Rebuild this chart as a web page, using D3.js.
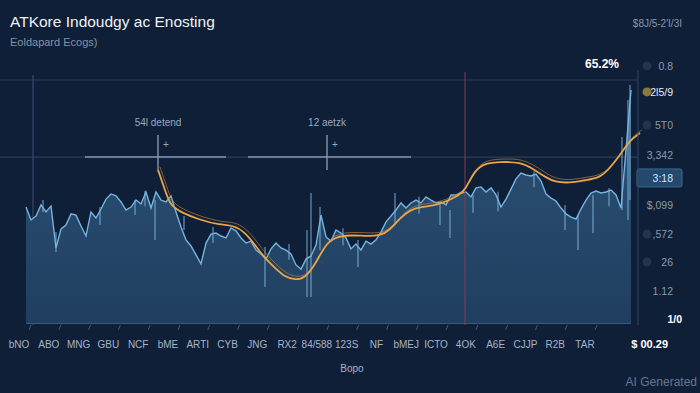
<!DOCTYPE html>
<html>
<head>
<meta charset="utf-8">
<script src="https://cdn.jsdelivr.net/npm/d3@7"></script>
<style>
  html, body { margin: 0; padding: 0; background: #0f1f38; }
  svg { display: block; font-family: "Liberation Sans", Arial, sans-serif; }
</style>
</head>
<body>
<div id="chart"></div>
<script>
// 1: DATA
const priceValues = [
  47.7, 42.4, 44.0, 48.6, 45.7, 48.1, 30.9, 38.7, 40.3, 44.9,
  44.4, 39.9, 35.8, 45.7, 43.2, 46.9, 51.0, 53.1, 52.3, 49.8,
  46.5, 47.7, 50.6, 49.0, 53.9, 47.3, 53.9, 50.6, 49.8, 52.3,
  45.7, 39.5, 34.2, 31.7, 28.0, 24.3, 32.9, 36.6, 37.0, 35.8,
  35.0, 39.1, 37.9, 35.0, 32.9, 33.7, 30.0, 28.4, 26.3, 30.5,
  32.9, 30.9, 30.0, 28.4, 23.9, 22.2, 26.3, 27.6, 32.1, 44.4,
  35.4, 33.7, 38.3, 37.0, 35.0, 30.5, 32.5, 30.0, 33.7, 32.5,
  34.2, 37.4, 41.6, 44.0, 46.5, 49.4, 47.3, 49.4, 50.6, 49.4,
  51.9, 50.6, 49.4, 49.8, 48.6, 52.7, 52.7, 53.5, 53.9, 51.9,
  55.6, 56.0, 53.9, 55.6, 52.7, 47.7, 51.0, 55.1, 59.3, 61.7,
  60.9, 60.5, 61.3, 58.4, 53.1, 51.4, 50.2, 47.3, 44.9, 43.6,
  42.8, 46.9, 50.6, 53.5, 54.3, 53.5, 53.9, 54.7, 52.7, 47.3,
  71.2, 95.9
];

// thin wicks: [index, low, high]
const wicks = [
  [3.4, 45.7, 50.6], [6, 29.2, 37.4], [14.8, 40.3, 47.7], [21.8, 44.4, 50.6],
  [23.8, 48.0, 54.3], [25.8, 34.2, 50.6], [31.6, 38.3, 44.0], [37.4, 33.0, 39.5],
  [47.8, 14.8, 31.3], [52.6, 26.0, 32.5], [56.2, 10.7, 38.3], [57, 10.7, 53.5],
  [58.8, 30.0, 47.7], [63.4, 32.0, 39.0], [66.4, 23.0, 34.2], [73.8, 40.3, 53.5],
  [78.6, 45.0, 52.0], [82.8, 40.3, 48.6], [84.8, 35.0, 46.5], [89.4, 45.3, 52.7],
  [94.4, 46.0, 54.0], [101.6, 56.0, 62.5], [107.8, 38.3, 48.6], [110.4, 30.0, 44.4],
  [113.4, 37.0, 52.7], [116.6, 48.0, 55.5], [119.2, 46.5, 76.5], [120.4, 42.4, 91.8],
  [120.8, 50.6, 97.9]
];

const trendIdx = [
  26.4, 27.8, 28.8, 30.8, 34.8, 38.8, 41.4, 43.8, 45.8, 47.8,
  49.8, 51.8, 53.8, 55.8, 57.8, 59.8, 61.8, 64.8, 67.8, 70.8,
  72.8, 74.8, 76.8, 78.8, 82.8, 86.8, 87.8, 89.8, 91.8, 94.8,
  98.8, 101.8, 103.8, 105.8, 108.8, 111.8, 114.8, 116.8, 118.8, 120.8, 122.8
];
const trendVal = [
  63.0, 54.7, 48.6, 45.7, 42.4, 40.3, 40.3, 37.4, 32.1, 26.7,
  22.6, 18.9, 17.7, 18.5, 23.9, 32.1, 35.4, 36.2, 35.8, 35.8,
  38.3, 43.2, 46.5, 47.7, 48.6, 52.7, 54.7, 63.0, 65.8, 66.3,
  66.3, 63.0, 60.1, 58.0, 57.6, 58.8, 59.7, 63.8, 69.1, 75.3, 78.2
];

const xLabels = ["bNO", "ABO", "MNG", "GBU", "NCF", "bME", "ARTI", "CYB", "JNG", "RX2",
  "84/588", "123S", "NF", "bMEJ", "ICTO", "4OK", "A6E", "CJJP", "R2B", "TAR"];

const yTickValues = [105.8, 95.1, 81.5, 69.1, 59.7, 48.6, 36.6, 25.1, 13.2, 1.6];
const yTickLabels = ["0.8", "2l5/9", "5T0", "3,342", "3:18", "$,099", ",572", "26", "1.12", "1/0"];

const gridValues = [100, 68.3];

const annotations = [
  { label: "54l detend", at: 26.4, from: 11.8, to: 40 },
  { label: "12 aetzk", at: 60.2, from: 44.4, to: 77 }
];
const redMarkerAt = 87.8;
const leftMarkerAt = 1.4;

// 2: SETUP
const W = 700, H = 393;
const svg = d3.select("#chart").append("svg")
  .attr("width", W).attr("height", H);

svg.append("rect").attr("width", W).attr("height", H).attr("fill", "#0f1f38");

const x = d3.scaleLinear().domain([0, 121]).range([26, 631]);
const y = d3.scaleLinear().domain([0, 100]).range([323, 80]);

const defs = svg.append("defs");
const grad = defs.append("linearGradient").attr("id", "areaGrad")
  .attr("x1", 0).attr("y1", 0).attr("x2", 0).attr("y2", 1);
grad.append("stop").attr("offset", "0%").attr("stop-color", "#2d5276");
grad.append("stop").attr("offset", "100%").attr("stop-color", "#203f60");

// 3: GRID + MARKERS
svg.selectAll(".grid").data(gridValues).enter().append("line")
  .attr("x1", 0).attr("x2", 637)
  .attr("y1", d => y(d)).attr("y2", d => y(d))
  .attr("stroke", "#2a3e5a").attr("stroke-width", 1.2);

svg.append("line")
  .attr("x1", x(leftMarkerAt)).attr("x2", x(leftMarkerAt))
  .attr("y1", 75).attr("y2", 325)
  .attr("stroke", "#33486a").attr("stroke-width", 1.2);

// 4: AREA + LINE
const priceData = priceValues.map((v, i) => ({ i, v }));

svg.append("path")
  .datum(priceData)
  .attr("fill", "url(#areaGrad)")
  .attr("d", d3.area().x(d => x(d.i)).y0(y(0)).y1(d => y(d.v)));

svg.append("rect")
  .attr("x", x(0)).attr("y", y(0))
  .attr("width", x(121) - x(0)).attr("height", 1)
  .attr("fill", "#3a5a7d");

svg.selectAll(".wick").data(wicks).enter().append("line")
  .attr("x1", d => x(d[0])).attr("x2", d => x(d[0]))
  .attr("y1", d => y(d[1])).attr("y2", d => y(d[2]))
  .attr("stroke", "#86bde3").attr("stroke-opacity", 0.55).attr("stroke-width", 1.6);

svg.append("path")
  .datum(priceData)
  .attr("fill", "none")
  .attr("stroke", "#74b4df")
  .attr("stroke-width", 1.4)
  .attr("d", d3.line().x(d => x(d.i)).y(d => y(d.v)));

svg.append("line")
  .attr("x1", x(redMarkerAt)).attr("x2", x(redMarkerAt))
  .attr("y1", 72).attr("y2", 325)
  .attr("stroke", "#8a3b4c").attr("stroke-opacity", 0.8).attr("stroke-width", 1.2);

// trend line (double stroke)
const trendData = trendIdx.map((t, k) => ({ i: t, v: trendVal[k] }));
const trendLine = d3.line().x(d => x(d.i)).y(d => y(d.v)).curve(d3.curveBasis);

svg.append("path").datum(trendData)
  .attr("fill", "none").attr("stroke", "#b77f3e").attr("stroke-opacity", 0.7)
  .attr("stroke-width", 1).attr("transform", "translate(2,-3)")
  .attr("d", trendLine);

svg.append("path").datum(trendData)
  .attr("fill", "none").attr("stroke", "#e9a447")
  .attr("stroke-width", 1.8)
  .attr("d", trendLine);

// annotations
const ann = svg.selectAll(".ann").data(annotations).enter().append("g");
ann.append("line")
  .attr("x1", d => x(d.from)).attr("x2", d => x(d.to))
  .attr("y1", y(68.3)).attr("y2", y(68.3))
  .attr("stroke", "#8596ae").attr("stroke-width", 1.6);
ann.append("line")
  .attr("x1", d => x(d.at)).attr("x2", d => x(d.at))
  .attr("y1", 135).attr("y2", 170)
  .attr("stroke", "#8596ae").attr("stroke-width", 1.4);
ann.append("text")
  .attr("x", d => x(d.at) + 8).attr("y", 148)
  .attr("text-anchor", "middle")
  .attr("fill", "#9aa9bf").attr("font-size", 10)
  .text("+");
ann.append("text")
  .attr("x", d => x(d.at)).attr("y", 126)
  .attr("text-anchor", "middle")
  .attr("fill", "#9aa9bf").attr("font-size", 10)
  .text(d => d.label);

// 5: AXES
const xPos = d3.scalePoint().domain(xLabels).range([19, 585]);

svg.append("g")
  .selectAll("text").data(xLabels).enter().append("text")
  .attr("x", d => xPos(d)).attr("y", 348)
  .attr("text-anchor", "middle")
  .attr("fill", "#a5b4c8").attr("font-size", 10)
  .text(d => d);

svg.append("g")
  .selectAll("line").data(xLabels).enter().append("line")
  .attr("x1", d => xPos(d) + 12).attr("x2", d => xPos(d) + 10)
  .attr("y1", 325).attr("y2", 330)
  .attr("stroke", "#3f5878").attr("stroke-width", 1);

const yAxis = svg.append("g")
  .attr("transform", "translate(638,0)")
  .call(d3.axisRight(y).tickValues(yTickValues)
    .tickFormat((d, i) => yTickLabels[i]).tickSize(0).tickPadding(35));
yAxis.select(".domain").attr("stroke", "#2e4562").attr("d", "M0,70V325");
yAxis.selectAll("text")
  .attr("text-anchor", "end")
  .attr("font-family", "Liberation Sans, Arial, sans-serif")
  .attr("font-size", 10.5)
  .attr("fill", (d, i) => i === 1 ? "#e6edf5" : "#8a9ab0");

// highlighted current value
const hl = y(yTickValues[4]);
svg.insert("rect", "g:last-of-type")
  .attr("x", 637).attr("y", hl - 9).attr("width", 45).attr("height", 18)
  .attr("fill", "#24496c").attr("stroke", "#3a6a93").attr("rx", 2);
yAxis.selectAll("text").filter((d, i) => i === 4).attr("fill", "#cfe6f7");
yAxis.selectAll("text").filter((d, i) => i === 9)
  .attr("fill", "#ffffff").attr("font-weight", "bold").attr("x", 44);

// faint icons next to some labels
svg.selectAll(".icon").data([0, 1, 2, 6, 7]).enter().append("circle")
  .attr("cx", 647).attr("cy", i => y(yTickValues[i]))
  .attr("r", 4.5)
  .attr("fill", i => i === 1 ? "#8a7a3a" : "#22344e");

// 6: TEXT
svg.append("text").attr("x", 10).attr("y", 27)
  .attr("fill", "#eef2f7").attr("font-size", 15.5)
  .text("ATKore Indoudgy ac Enosting");
svg.append("text").attr("x", 10).attr("y", 46)
  .attr("fill", "#8493a9").attr("font-size", 11)
  .text("Eoldapard Ecogs)");
svg.append("text").attr("x", 682).attr("y", 27)
  .attr("text-anchor", "end")
  .attr("fill", "#8796ab").attr("font-size", 10)
  .text("$8J/5-2'I/3I");
svg.append("text").attr("x", 602).attr("y", 68)
  .attr("text-anchor", "middle")
  .attr("fill", "#ffffff").attr("font-size", 12).attr("font-weight", "bold")
  .text("65.2%");
svg.append("text").attr("x", 668).attr("y", 348)
  .attr("text-anchor", "end")
  .attr("fill", "#ffffff").attr("font-size", 11).attr("font-weight", "bold")
  .text("$ 00.29");
svg.append("text").attr("x", 352).attr("y", 372)
  .attr("text-anchor", "middle")
  .attr("fill", "#a5b4c8").attr("font-size", 10)
  .text("Bopo");
svg.append("text").attr("x", 697).attr("y", 386)
  .attr("text-anchor", "end")
  .attr("fill", "#66768c").attr("font-size", 12)
  .text("AI Generated");
</script>
</body>
</html>
